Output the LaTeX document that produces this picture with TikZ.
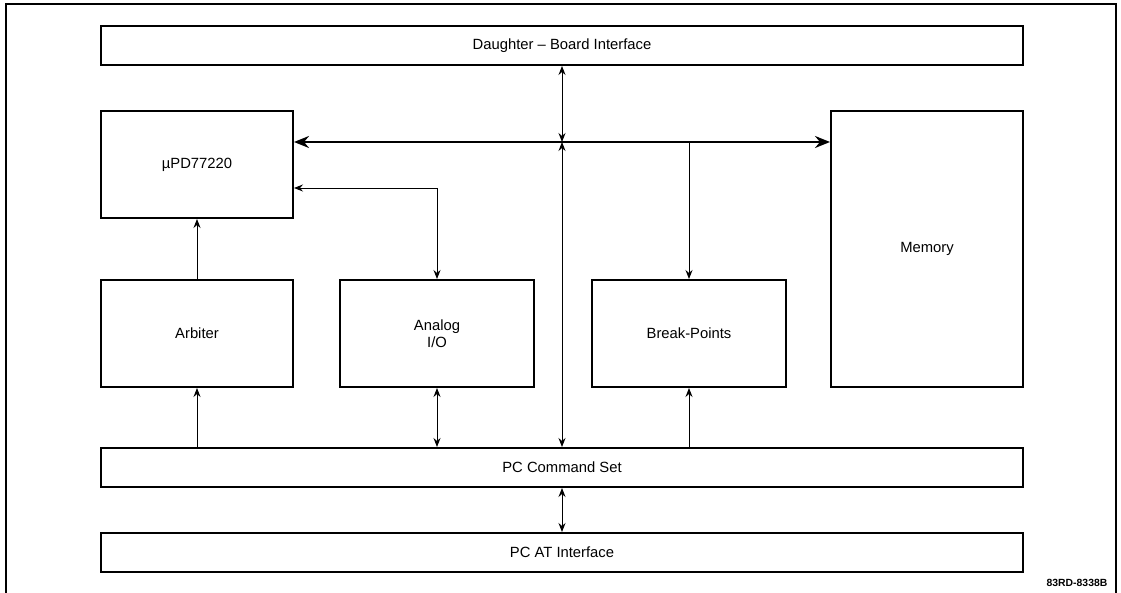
\documentclass[tikz,border=0pt]{standalone}
\usepackage{fontspec}
\setmainfont{Liberation Sans}
\usetikzlibrary{arrows.meta}

\begin{document}
\begin{tikzpicture}[
  x=1pt, y=-1pt,
  every node/.style={font=\fontsize{14.8}{17}\selectfont, align=center, text=black},
  blk/.style={draw=black, line width=2pt, inner sep=0pt},
  link/.style={line width=0.9pt, -{Stealth[length=9pt, width=7pt, inset=3pt]}},
  dlink/.style={line width=0.9pt, {Stealth[length=9pt, width=7pt, inset=3pt]}-{Stealth[length=9pt, width=7pt, inset=3pt]}},
  bus/.style={line width=2.4pt, {Stealth[length=15pt, width=12pt, inset=5pt]}-{Stealth[length=15pt, width=12pt, inset=5pt]}}
]
  \useasboundingbox (0,0) rectangle (1121,593);
  % page frame, open at the bottom
  \draw[line width=1.4pt] (6,593) -- (6,4) -- (1116,4) -- (1116,593);

  % blocks
  \node[blk, minimum width=922pt, minimum height=39pt] (dbi) at (562,45.5) {Daughter -- Board Interface};
  \node[blk, minimum width=192pt, minimum height=107pt] (upd) at (197,164.5) {µPD77220};
  \node[blk, minimum width=192pt, minimum height=276pt] (mem) at (927,249) {Memory};
  \node[blk, minimum width=192pt, minimum height=107pt] (arb) at (197,333.5) {Arbiter};
  \node[blk, minimum width=194pt, minimum height=107pt] (ana) at (437,333.5) {Analog\\I/O};
  \node[blk, minimum width=194pt, minimum height=107pt] (bp) at (689,333.5) {Break-Points};
  \node[blk, minimum width=922pt, minimum height=39pt] (pcs) at (562,467.5) {PC Command Set};
  \node[blk, minimum width=922pt, minimum height=39pt] (pat) at (562,552.5) {PC AT Interface};
  \node[font=\bfseries\fontsize{10.4}{12}\selectfont] (fig) at (1077,583) {83RD-8338B};

  % data bus
  \coordinate (busy) at (0,142);
  \coordinate (ioy) at (0,188);
  \draw[bus] (upd.east |- busy) -- (mem.west |- busy);

  % connections
  \draw[dlink] (dbi.south) -- (dbi.south |- busy);
  \draw[dlink] (dbi.south |- busy) -- (pcs.north);
  \draw[link] (bp.north |- busy) -- (bp.north);
  \draw[dlink] (upd.east |- ioy) -| (ana.north);
  \draw[link] (arb.north) -- (upd.south);
  \draw[link] (arb.south |- pcs.north) -- (arb.south);
  \draw[dlink] (ana.south) -- (ana.south |- pcs.north);
  \draw[link] (bp.south |- pcs.north) -- (bp.south);
  \draw[dlink] (pcs.south) -- (pat.north);
\end{tikzpicture}
\end{document}
